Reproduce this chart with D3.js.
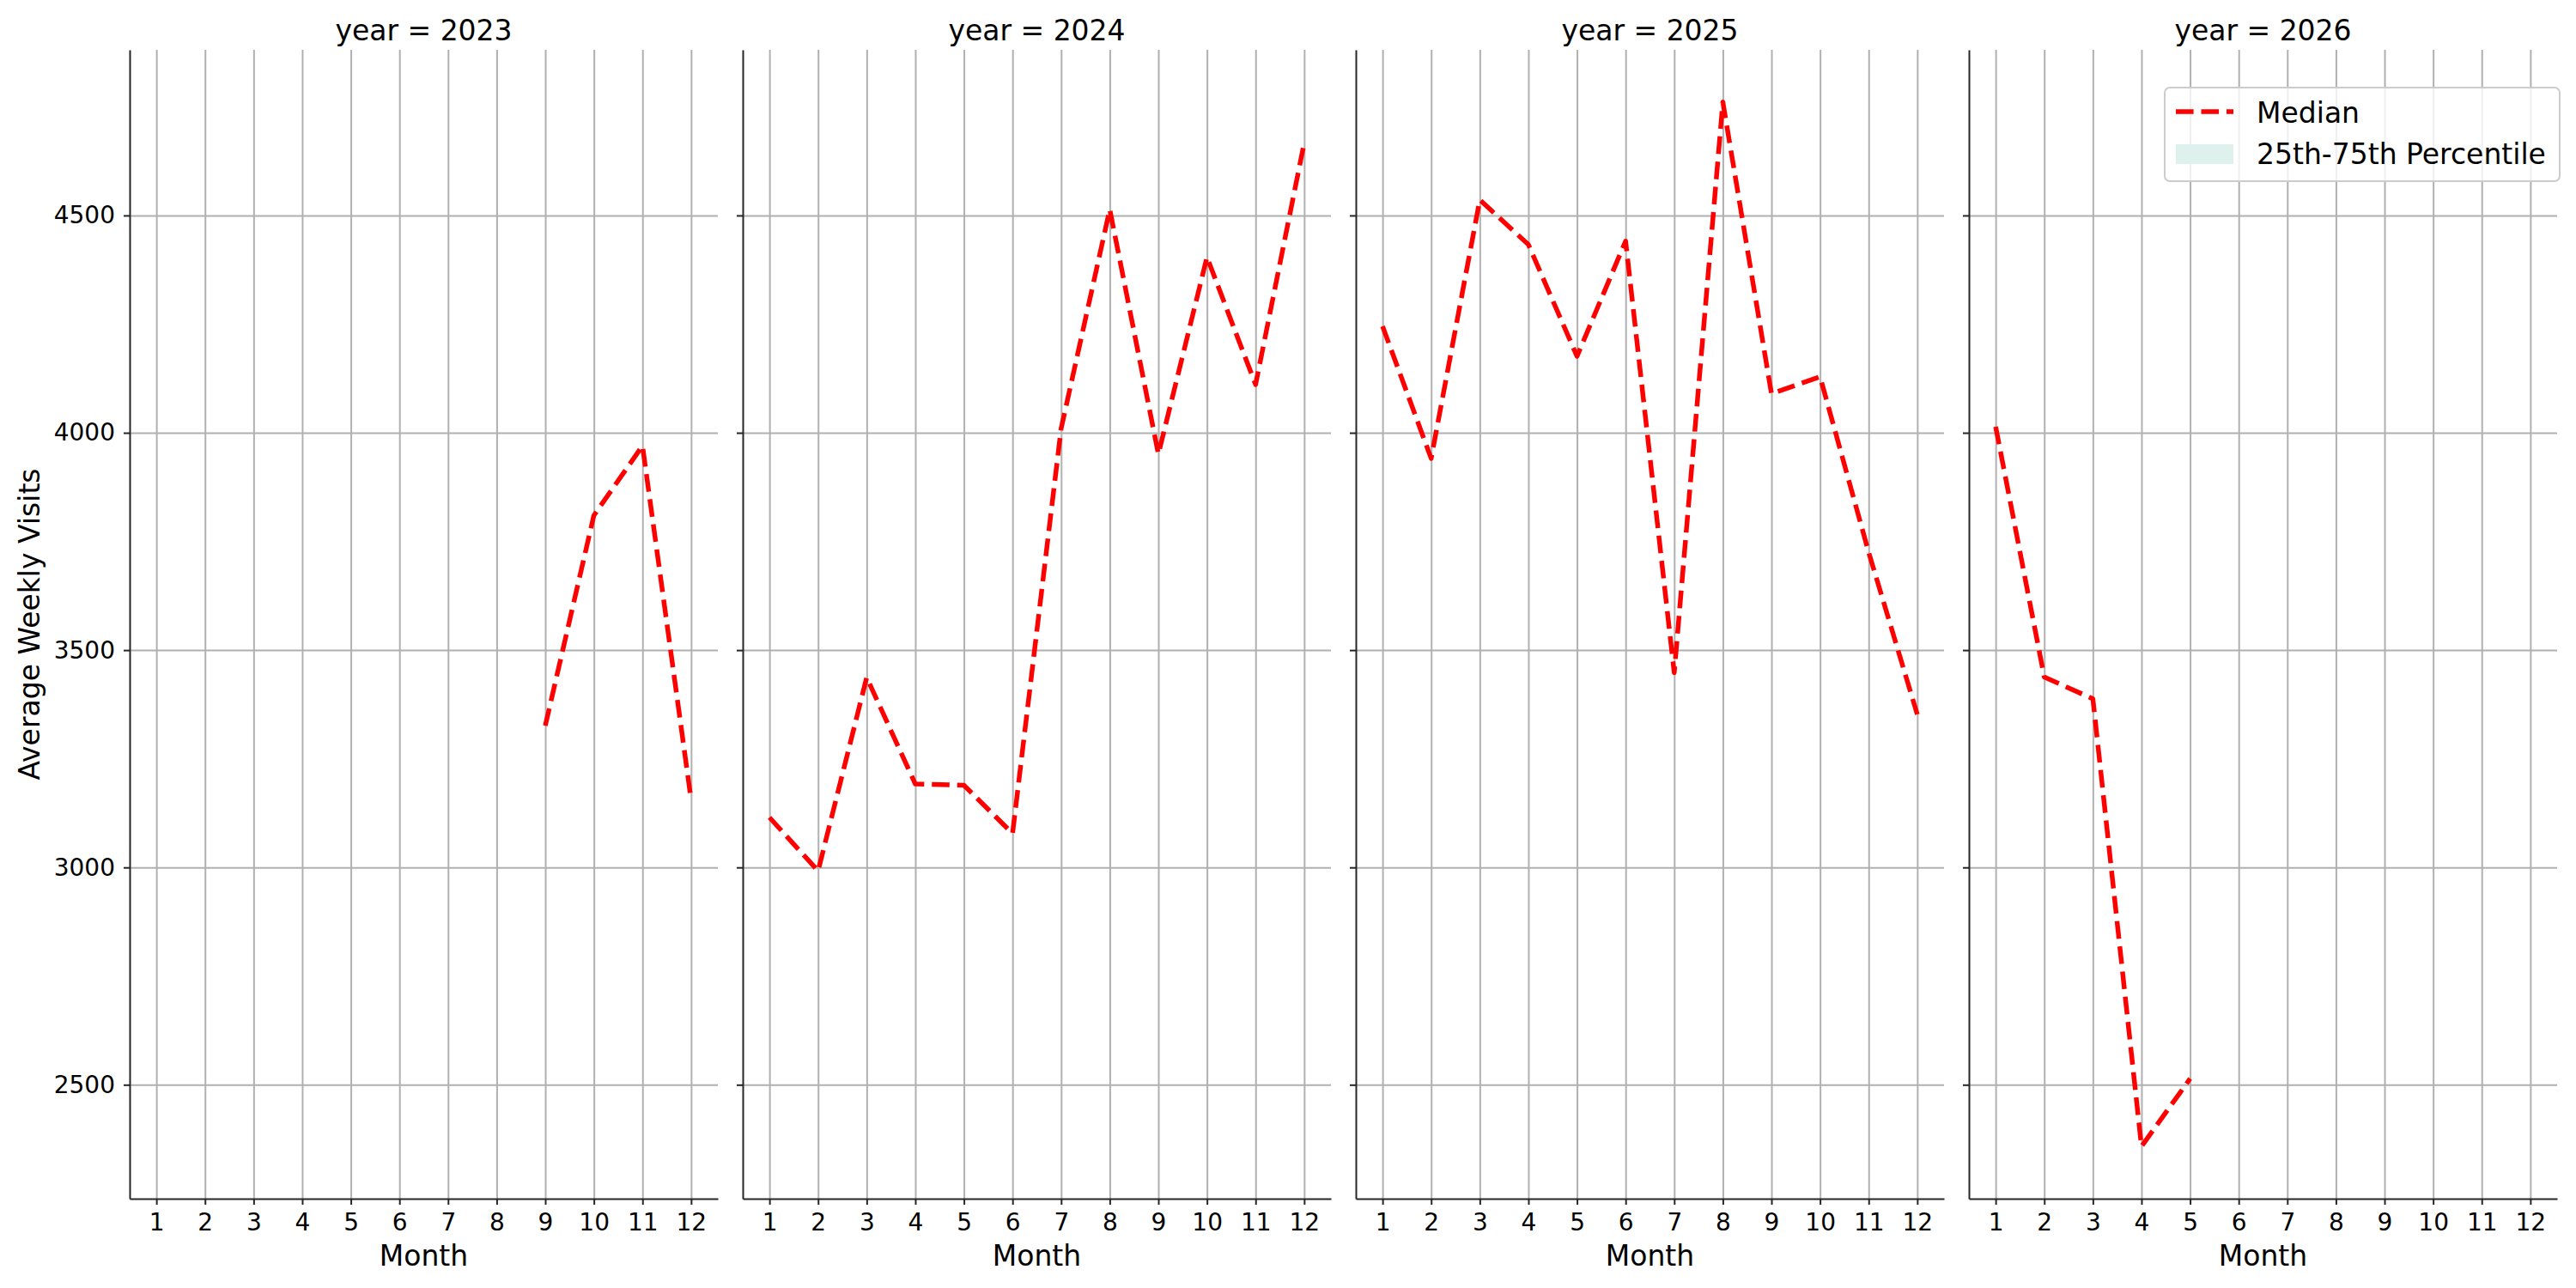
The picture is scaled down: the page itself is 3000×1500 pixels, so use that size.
<!DOCTYPE html>
<html>
<head>
<meta charset="utf-8">
<script src="https://cdn.jsdelivr.net/npm/d3@7"></script>
<style>
  body { margin: 0; background: #fff; }
  svg { font-family: "DejaVu Sans", sans-serif; }
  .grid line { stroke: #b0b0b0; stroke-width: 2; }
  .grid path { display: none; }
  .axis path, .axis line { stroke: #262626; stroke-width: 2; }
  .axis text { font-size: 28px; fill: #000; font-family: "DejaVu Sans", sans-serif; }
  .title, .label { font-size: 33px; fill: #000; }
  .median { fill: none; stroke: red; stroke-width: 5.5; stroke-dasharray: 20.6 8.9; stroke-linejoin: round; }
</style>
</head>
<body>
<div id="chart"></div>
<script>
// facet years and month ticks
const years = [2023, 2024, 2025, 2026];
const months = [1, 2, 3, 4, 5, 6, 7, 8, 9, 10, 11, 12];
const yTicks = [2500, 3000, 3500, 4000, 4500];

// median of average weekly visits, by month (null = no data)
const median2023 = [null, null, null, null, null, null, null, null, 3326, 3810, 3970, 3156];
const median2024 = [3115, 2992, 3437, 3192, 3189, 3078, 4010, 4514, 3951, 4404, 4111, 4667];
const median2025 = [4245, 3941, 4536, 4433, 4176, 4441, 3448, 4761, 4090, 4129, 3725, 3352];
const median2026 = [4014, 3438, 3388, 2358, 2514, null, null, null, null, null, null, null];
const medians = [median2023, median2024, median2025, median2026];

const legendLabels = ["Median", "25th-75th Percentile"];

const W = 3000, H = 1500;
const margin = {top: 58, left: 151, bottom: 104};
const panelWidth = 685, panelGap = 29;
const height = H - margin.top - margin.bottom;

const svg = d3.select("#chart").append("svg")
  .attr("width", W)
  .attr("height", H);

// matplotlib-style 5% padding on both axes
const xPad = (d3.max(months) - d3.min(months)) * 0.05;
const x = d3.scaleLinear()
  .domain([d3.min(months) - xPad, d3.max(months) + xPad])
  .range([0, panelWidth]);

const allValues = medians.flat().filter((v) => v != null);
const [yMin, yMax] = d3.extent(allValues);
const yPad = (yMax - yMin) * 0.05;
const y = d3.scaleLinear()
  .domain([yMin - yPad, yMax + yPad])
  .range([height, 0]);

const line = d3.line()
  .defined((d) => d.value != null)
  .x((d) => x(d.month))
  .y((d) => y(d.value));

years.forEach(function (year, i) {
  const g = svg.append("g")
    .attr("transform", "translate(" + (margin.left + i * (panelWidth + panelGap)) + "," + margin.top + ")");

  // grid
  g.append("g")
    .attr("class", "grid")
    .attr("transform", "translate(0," + height + ")")
    .call(d3.axisBottom(x).tickValues(months).tickSize(-height).tickFormat(""));

  g.append("g")
    .attr("class", "grid")
    .call(d3.axisLeft(y).tickValues(yTicks).tickSize(-panelWidth).tickFormat(""));

  const data = months.map((m, j) => ({month: m, value: medians[i][j]}));

  g.append("path")
    .datum(data)
    .attr("class", "median")
    .attr("d", line);

  // axes (left + bottom spines only)
  g.append("g")
    .attr("class", "axis")
    .attr("transform", "translate(0," + height + ")")
    .call(d3.axisBottom(x).tickValues(months).tickSize(7).tickPadding(10).tickSizeOuter(0));

  g.append("g")
    .attr("class", "axis")
    .call(d3.axisLeft(y).tickValues(yTicks).tickSize(7).tickPadding(10).tickSizeOuter(0)
      .tickFormat(i === 0 ? d3.format("d") : ""));

  g.append("text")
    .attr("class", "title")
    .attr("x", panelWidth / 2)
    .attr("y", -11)
    .attr("text-anchor", "middle")
    .text("year = " + year);

  g.append("text")
    .attr("class", "label")
    .attr("x", panelWidth / 2)
    .attr("y", height + 78)
    .attr("text-anchor", "middle")
    .text("Month");

  if (i === 0) {
    g.append("text")
      .attr("class", "label")
      .attr("transform", "translate(-105," + (height / 2) + ") rotate(-90)")
      .attr("text-anchor", "middle")
      .text("Average Weekly Visits");
  }
});

// legend
const legend = svg.append("g").attr("transform", "translate(2521,102)");

legend.append("rect")
  .attr("width", 460)
  .attr("height", 109)
  .attr("rx", 6)
  .attr("fill", "#fff")
  .attr("fill-opacity", 0.8)
  .attr("stroke", "#cccccc")
  .attr("stroke-width", 2);

legend.append("line")
  .attr("class", "median")
  .attr("x1", 13).attr("x2", 80)
  .attr("y1", 28).attr("y2", 28);

legend.append("rect")
  .attr("x", 13).attr("y", 66)
  .attr("width", 67).attr("height", 23)
  .attr("fill", "#dff1ec");

legend.selectAll("text.entry")
  .data(legendLabels)
  .enter()
  .append("text")
    .attr("class", "label entry")
    .attr("x", 107)
    .attr("y", (d, k) => 41 + k * 48)
    .text((d) => d);
</script>
</body>
</html>
